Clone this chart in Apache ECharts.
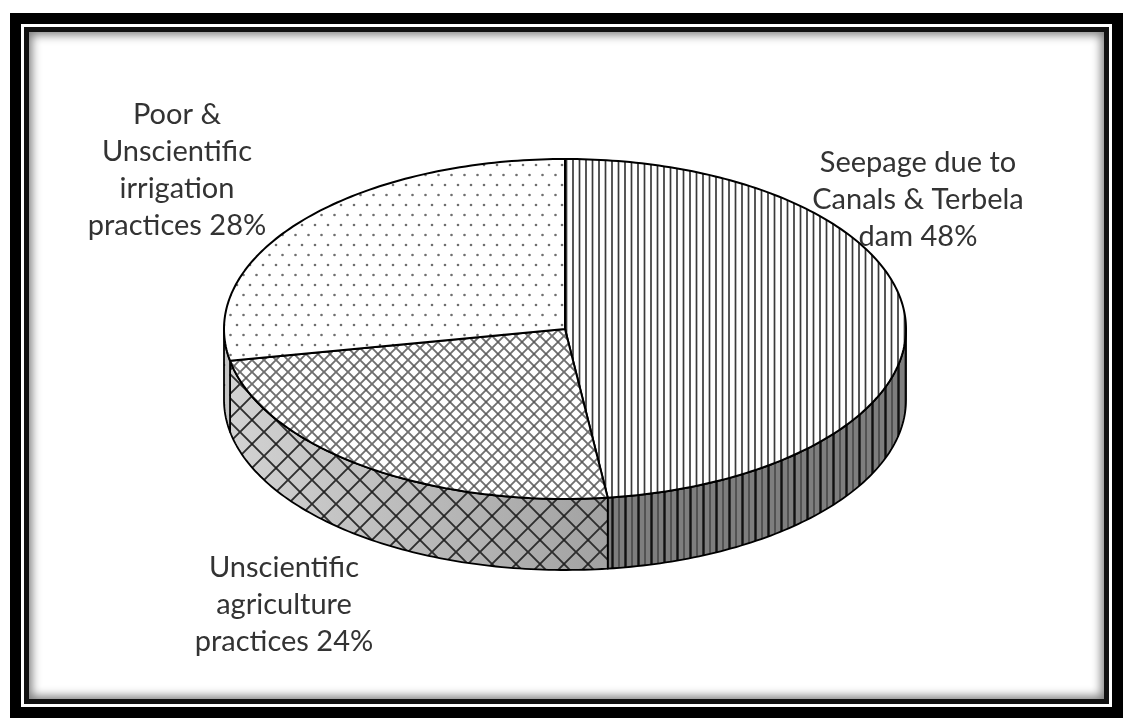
<!DOCTYPE html>
<html>
<head>
<meta charset="utf-8">
<script src="https://cdn.jsdelivr.net/npm/echarts@6/dist/echarts.min.js"></script>
<style>
  html, body { margin: 0; padding: 0; background: #fff; }
  #chart { position: absolute; left: 0; top: 0; width: 1125px; height: 722px; }
  .frame { position: absolute; left: 10px; top: 13px; width: 1113px; height: 705px;
           box-sizing: border-box; border: 11px solid #000; pointer-events: none; }
  .frame .inner { position: absolute; left: 3px; top: 3px; right: 3px; bottom: 3px;
                  border: 5px solid #111; box-shadow: inset 0 0 10px 3px rgba(0,0,0,0.5); }
</style>
</head>
<body>
<div id="chart"></div>
<div class="frame"><div class="inner"></div></div>
<script>
// Causes of waterlogging, share of total (%)
const categories = [
  'Seepage due to\nCanals & Terbela\ndam',
  'Unscientific\nagriculture\npractices',
  'Poor &\nUnscientific\nirrigation\npractices'
];
const values = [48, 24, 28];

// ---- fill patterns ----
function tile(w, h, bg, draw) {
  const c = document.createElement('canvas');
  c.width = w; c.height = h;
  const g = c.getContext('2d');
  if (bg) { g.fillStyle = bg; g.fillRect(0, 0, w, h); }
  draw(g, w, h);
  return { type: 'pattern', image: c, repeat: 'repeat' };
}
function vlines(bg, lines) {
  return tile(13, 4, bg, function (g, w, h) {
    lines.forEach(function (l) {
      g.strokeStyle = l[2]; g.lineWidth = l[1];
      g.beginPath(); g.moveTo(l[0], 0); g.lineTo(l[0], h); g.stroke();
    });
  });
}
function cross(size, bg, color, lw, dotColor, dotR) {
  return tile(size, size, bg, function (g, w, h) {
    g.strokeStyle = color; g.lineWidth = lw;
    g.beginPath();
    g.moveTo(0, 0); g.lineTo(w, h);
    g.moveTo(w, 0); g.lineTo(0, h);
    g.stroke();
    g.fillStyle = dotColor;
    [[w / 2, h / 2]].forEach(function (p) {
      g.beginPath(); g.arc(p[0], p[1], dotR, 0, Math.PI * 2); g.fill();
    });
  });
}
function dots(bg, color) {
  return tile(13, 20, bg, function (g) {
    g.fillStyle = color;
    [[3, 5], [9.5, 15]].forEach(function (p) {
      g.beginPath(); g.arc(p[0], p[1], 1.3, 0, Math.PI * 2); g.fill();
    });
  });
}

const topFill = [
  vlines('#ffffff', [[1, 1.7, '#3a3a3a'], [7.5, 1.7, '#3a3a3a']]),
  cross(12, '#ffffff', '#707070', 1.9, '#444', 0.8),
  dots('#ffffff', '#6e6e6e')
];
const sideBase = [
  '#7e7e7e',
  { type: 'linear', x: 0, y: 0, x2: 1, y2: 0,
    colorStops: [{ offset: 0, color: '#d2d2d2' }, { offset: 1, color: '#a2a2a2' }] },
  '#c4c4c4'
];
const sideFill = [
  vlines(null, [[1.5, 2.4, '#111'], [8, 1.3, '#3c3c3c']]),
  cross(24, null, '#2e2e2e', 1.9, '#222', 1.2),
  dots(null, '#444')
];

// ---- pie geometry ----
const CX = 565, CY = 329, RX = 341, RY = 170, DEPTH = 71;
const total = values.reduce(function (a, b) { return a + b; }, 0);
const starts = [];
(function () { let acc = 0; values.forEach(function (v) { starts.push(acc / total * 360); acc += v; }); })();

function pt(deg, dy) {
  const r = deg * Math.PI / 180;
  return [CX + RX * Math.sin(r), CY - RY * Math.cos(r) + dy];
}
function arc(a0, a1, dy) {
  const n = Math.max(2, Math.ceil(Math.abs(a1 - a0)));
  const out = [];
  for (let k = 0; k <= n; k++) out.push(pt(a0 + (a1 - a0) * k / n, dy));
  return out;
}

// label anchors (centre of each text block)
const labelAnchor = [[918, 200], [284, 605], [177, 170]];

function renderItem(params, api) {
  const i = params.dataIndex;
  const v = api.value(0);
  const a0 = starts[i];
  const a1 = a0 + v / total * 360;
  const children = [];

  // visible outer wall (front half of the disc)
  const s0 = Math.max(a0, 90), s1 = Math.min(a1, 270);
  if (s1 > s0) {
    const wall = arc(s0, s1, 0).concat(arc(s1, s0, DEPTH));
    children.push({ type: 'polygon', shape: { points: wall },
      style: { fill: sideBase[i], stroke: null } });
    children.push({ type: 'polygon', shape: { points: wall },
      style: { fill: sideFill[i], stroke: '#000', lineWidth: 1.8, lineJoin: 'round' } });
  }

  // top face
  const face = [[CX, CY]].concat(arc(a0, a1, 0));
  children.push({ type: 'polygon', shape: { points: face },
    style: { fill: topFill[i], stroke: '#000', lineWidth: 2, lineJoin: 'round' } });

  // label
  const pct = Math.round(v / total * 100);
  children.push({ type: 'text', z2: 10, style: {
    text: categories[i] + ' ' + pct + '%',
    x: labelAnchor[i][0], y: labelAnchor[i][1],
    align: 'center', verticalAlign: 'middle',
    fontFamily: 'Lato', fontSize: 29, lineHeight: 37, fill: '#333333'
  } });

  return { type: 'group', children: children };
}

const chart = echarts.init(document.getElementById('chart'), null, { renderer: 'canvas' });
chart.setOption({
  backgroundColor: '#ffffff',
  animation: false,
  series: [{
    type: 'custom',
    coordinateSystem: 'none',
    renderItem: renderItem,
    data: values.map(function (v) { return [v]; })
  }]
});
</script>
</body>
</html>
